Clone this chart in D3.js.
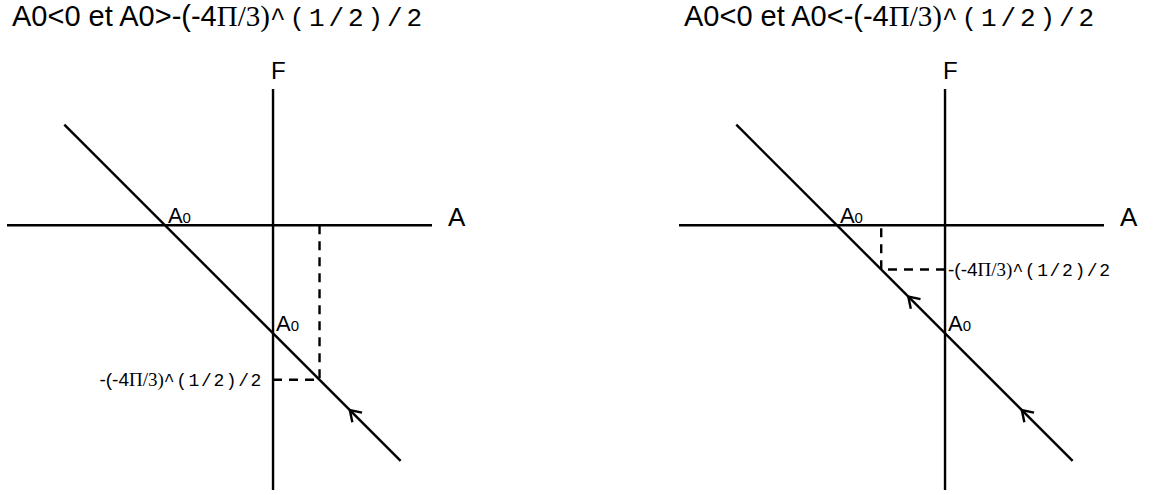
<!DOCTYPE html>
<html>
<head>
<meta charset="utf-8">
<script src="https://cdn.jsdelivr.net/npm/d3@7"></script>
<style>
  html, body { margin: 0; padding: 0; background: #fff; }
  svg { display: block; }
</style>
</head>
<body>
<script>
// ---- data (schematic units: A0 = -1) ----
const panelNames = ["left", "right"];
const titlePrefix = ["A0<0 et A0>", "A0<0 et A0<"];
const titleCore = ["-(-4", "Π/3)", "^(1/2)/2"];
const A0 = -1;
const axisA = [-2.46, 1.47];        // horizontal axis extent
const axisF = [1.26, -2.45];        // vertical axis extent
const lineA = [-1.93, 1.18];        // A values of the trajectory ends (F = A0 - A)
const criticalF = [-1.43, -0.41];   // -(-4Π/3)^(1/2)/2 level, per panel
const arrowA = [[0.71], [-0.34, 0.71]]; // arrow positions along the trajectory
const panelShift = [0, 672];

const W = 1157, H = 495;
const svg = d3.select("body").append("svg").attr("width", W).attr("height", H);

const x = d3.scaleLinear().domain(axisA).range([7, 432]);
const y = d3.scaleLinear().domain(axisF).range([89, 490]);
const fOf = a => A0 - a;

const SANS = "'Liberation Sans', Arial, sans-serif";
const SERIF = "'Liberation Serif', 'Times New Roman', serif";
const MONO = "'Liberation Mono', 'Courier New', monospace";
const SW = 2.4;

function richLabel(sel, prefix, size, monoSize, monoSpacing) {
  sel.append("tspan").attr("font-family", SANS).attr("font-size", size).text(prefix + titleCore[0]);
  sel.append("tspan").attr("font-family", SERIF).attr("font-size", size).text(titleCore[1]);
  sel.append("tspan").attr("font-family", MONO).attr("font-size", monoSize)
    .attr("letter-spacing", monoSpacing).text(titleCore[2]);
}

panelNames.forEach((name, i) => {
  const g = svg.append("g").attr("transform", `translate(${panelShift[i]},0)`);

  // title
  const t = g.append("text").attr("x", 12).attr("y", 26).attr("fill", "#000");
  richLabel(t, titlePrefix[i], 29, 26, 3.9);

  // axes
  g.append("line").attr("x1", x(axisA[0])).attr("x2", x(axisA[1]))
    .attr("y1", y(0)).attr("y2", y(0)).attr("stroke", "#000").attr("stroke-width", SW);
  g.append("line").attr("x1", x(0)).attr("x2", x(0))
    .attr("y1", y(axisF[0])).attr("y2", y(axisF[1])).attr("stroke", "#000").attr("stroke-width", SW);

  g.append("text").attr("x", x(axisA[1]) + 16).attr("y", y(0) + 1)
    .attr("font-family", SANS).attr("font-size", 26).text("A");
  g.append("text").attr("x", x(0) - 2).attr("y", y(axisF[0]) - 10)
    .attr("font-family", SANS).attr("font-size", 24).text("F");

  // trajectory
  g.append("line").attr("x1", x(lineA[0])).attr("y1", y(fOf(lineA[0])))
    .attr("x2", x(lineA[1])).attr("y2", y(fOf(lineA[1])))
    .attr("stroke", "#000").attr("stroke-width", SW);

  // A0 labels
  const a0Pts = [[A0, 0], [0, A0]];
  a0Pts.forEach(([a, f]) => {
    const tx = g.append("text").attr("x", x(a) + 3).attr("y", y(f) - 2)
      .attr("font-family", SANS).attr("font-size", 22);
    tx.append("tspan").text("A");
    tx.append("tspan").attr("font-size", 15).text("0");
  });

  // dashed construction
  const fc = criticalF[i];
  const ac = A0 - fc;
  g.append("path")
    .attr("d", d3.line()([[x(0), y(fc)], [x(ac), y(fc)], [x(ac), y(0)]]))
    .attr("fill", "none").attr("stroke", "#000").attr("stroke-width", SW)
    .attr("stroke-dasharray", "9,7");

  // critical level label
  const lbl = g.append("text").attr("y", y(fc) + 6);
  if (i === 0) {
    lbl.attr("x", x(0) - 10).attr("text-anchor", "end");
  } else {
    lbl.attr("x", x(0) + 3);
  }
  richLabel(lbl, "", 19, 18, 1.6);

  // arrows (pointing up-left along the trajectory)
  arrowA[i].forEach(a => {
    const px = x(a), py = y(fOf(a));
    const ang = Math.PI / 4, spread = 0.58, len = 12.5;
    const p1 = [px + len * Math.cos(ang - spread), py + len * Math.sin(ang - spread)];
    const p2 = [px + len * Math.cos(ang + spread), py + len * Math.sin(ang + spread)];
    g.append("path").attr("d", d3.line()([p1, [px, py], p2]))
      .attr("fill", "none").attr("stroke", "#000").attr("stroke-width", SW);
  });
});
</script>
</body>
</html>
